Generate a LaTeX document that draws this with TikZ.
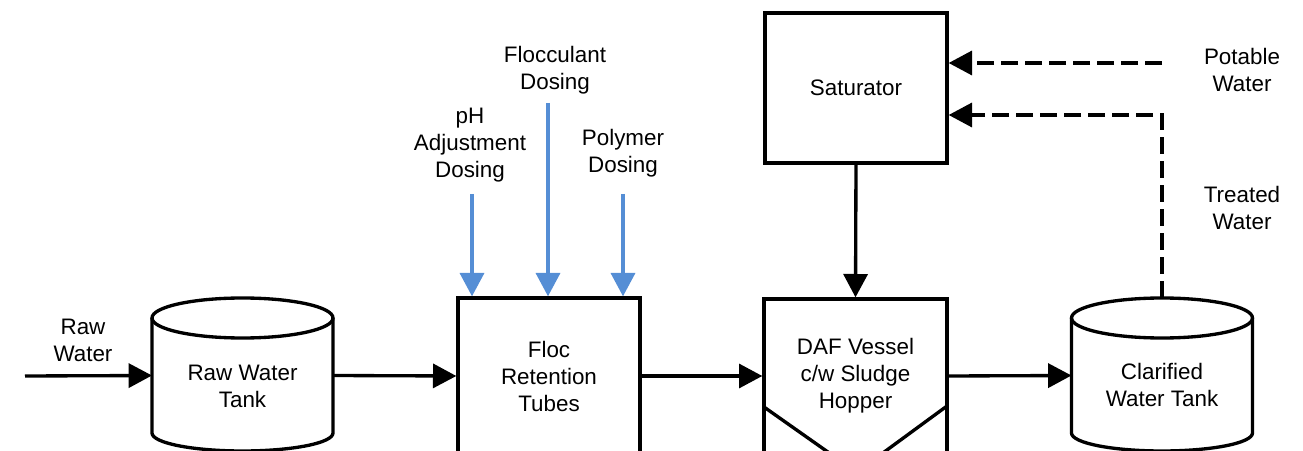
\documentclass[tikz,border=0pt]{standalone}
\usepackage{fontspec}
\setmainfont{Liberation Sans}
\usetikzlibrary{arrows.meta}

\definecolor{dosingblue}{RGB}{85,142,213}

\tikzset{
  flow/.style={line width=2.5pt,-{Triangle[length=17.5pt,width=18pt]}},
  dose/.style={flow,dosingblue},
  return/.style={flow,dash pattern=on 12.5pt off 5.5pt},
  txt/.style={align=center,font=\fontsize{16.8}{20.25}\selectfont},
  unit/.style={txt,draw,line width=2.5pt,minimum width=136.5pt,inner sep=0pt},
  tank/.style={minimum width=135.75pt,minimum height=86.25pt,inner sep=0pt,outer sep=0pt},
  tankline/.style={line width=2.5pt},
}

\begin{document}
\begin{tikzpicture}[x=0.75pt,y=0.75pt]
 \useasboundingbox (0,0) rectangle (1303,450);

 % raw water tank
 \node[tank] (rawtank) at (242.5,74.5) {};
 \draw[tankline] (rawtank.north west) -- (rawtank.south west)
   arc[start angle=180,end angle=360,x radius=67.875pt,y radius=13.5pt] -- (rawtank.north east);
 \draw[tankline] (rawtank.north) ellipse [x radius=67.875pt,y radius=15pt];
 \node[txt] (rawtanktxt) at (242.5,64) {Raw Water\\Tank};

 % floc retention tubes, DAF vessel and saturator
 \node[unit,minimum height=117pt] (floc) at (549,74) {Floc\\Retention\\Tubes};
 \node[unit,minimum width=137.25pt,minimum height=115.5pt] (daf) at (855.5,74) {DAF Vessel\\c/w Sludge\\Hopper};
 \draw[tankline] (764,43) -- (830.7,-4);  % hopper
 \draw[tankline] (947,44) -- (881.5,-4);
 \node[unit,minimum height=112.5pt] (sat) at (856,362) {Saturator};

 % clarified water tank
 \node[tank] (clartank) at (1162,74.5) {};
 \draw[tankline] (clartank.north west) -- (clartank.south west)
   arc[start angle=180,end angle=360,x radius=67.875pt,y radius=13.5pt] -- (clartank.north east);
 \draw[tankline] (clartank.north) ellipse [x radius=67.875pt,y radius=15pt];
 \node[txt] (clartanktxt) at (1162,65) {Clarified\\Water Tank};
 \coordinate (clartop) at ([yshift=15pt]clartank.north);

 % main flow
 \coordinate (rawin) at (25,74);
 \node[txt] (rawlbl) at (83,110) {Raw\\Water};
 \draw[flow] (rawin) -- (rawtank.west);
 \draw[flow] (rawtank.east) -- (floc.west);
 \draw[flow] (floc.east) -- (daf.west);
 \draw[flow] (daf.east) -- (clartank.west);
 \draw[flow] (sat.south) -- (daf.north);

 % dosing
 \coordinate (phin) at (472,256);
 \coordinate (flocin) at (548,347);
 \coordinate (polyin) at (623,256);
 \node[txt] (phlbl) at (470,305) {pH\\Adjustment\\Dosing};
 \node[txt] (floclbl) at (555,380) {Flocculant\\Dosing};
 \node[txt] (polylbl) at (623,297) {Polymer\\Dosing};
 \draw[dose] (phin) -- (phin |- floc.north);
 \draw[dose] (flocin) -- (flocin |- floc.north);
 \draw[dose] (polyin) -- (polyin |- floc.north);

 % saturator feed
 \coordinate (potin) at (1162,387);
 \coordinate (treatcorner) at (1162,335);
 \node[txt] (potlbl) at (1242,380) {Potable\\Water};
 \node[txt] (treatlbl) at (1242,242) {Treated\\Water};
 \draw[return] (potin) -- (potin -| sat.east);
 \draw[return] (clartop) -- (treatcorner) -- (treatcorner -| sat.east);

\end{tikzpicture}
\end{document}
